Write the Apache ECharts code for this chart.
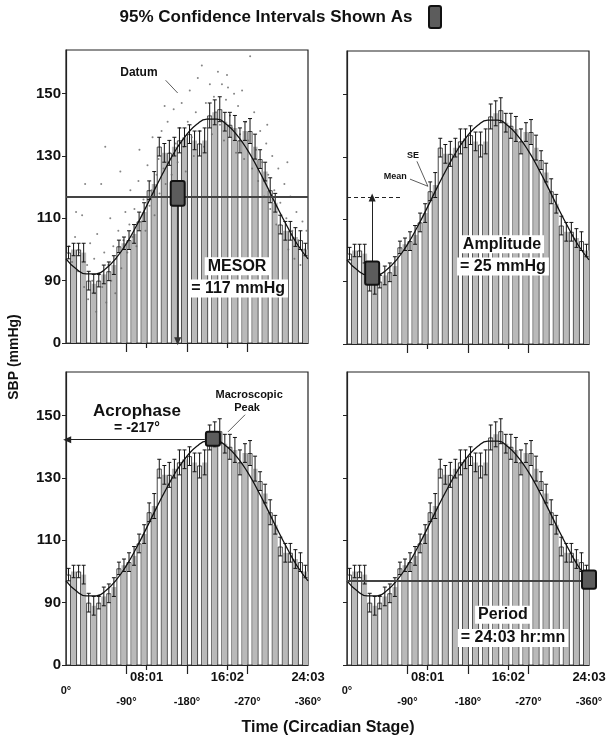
<!DOCTYPE html>
<html><head><meta charset="utf-8">
<script src="https://cdn.jsdelivr.net/npm/echarts@6/dist/echarts.min.js"></script>
<style>html,body{margin:0;padding:0;background:#fff}#c{width:613px;height:742px}</style>
</head><body><div id="c"></div>
<script>
// ---------- data ----------
const PERIOD_H = 24.05;          // 24:03 hr:mn
const MESOR = 117;
const AMPLITUDE = 25;
const ACROPHASE_DEG = -217;
const N_BINS = 48;

// half-hour mean SBP (mmHg)
const barMeans = [99,100,100,99,90,89,90,92,93,95,101,102,103,105,109,112,119,121,133,131,131,133,135,136,
                  137,135,134,135,143,144,145,141,140,139,135,138,138,133,129,125,119,115,108,106,106,104,103,100];
// standard errors
const barSE = [2,2,2,3,3,3,2,3,3,3,2,2,3,3,3,3,3,4,3,3,4,3,4,3,3,3,4,4,4,4,4,3,4,4,4,3,4,4,3,3,4,3,3,3,3,3,3,2];

// fitted cosine, read at each hour
const curveHours = [0,1,2,3,4,5,6,7,8,9,10,11,12,13,14,15,16,17,18,19,20,21,22,23,24.05];
const curveValues = [97,93.8,92.2,92.2,94,97.3,101.9,107.6,113.9,120.5,126.7,132.4,136.9,140.2,141.8,141.8,140,136.7,132.1,126.4,120.1,113.5,107.3,101.6,97];

// raw data (top-left panel)
const datumPoints = [[0.3,101],[0.6,96],[0.9,104],[1.0,112],[1.2,93],[1.4,99],[1.6,111],[1.8,88],[1.9,121],[2.1,95],[2.2,84],[2.4,102],
 [2.6,90],[2.8,97],[2.9,86],[3.0,80],[3.1,105],[3.3,92],[3.5,121],[3.6,88],[3.8,99],[3.9,133],[4.0,83],[4.2,95],[4.4,110],[4.5,90],
 [4.7,101],[4.9,86],[5.0,97],[5.2,106],[5.4,125],[5.5,94],[5.7,103],[5.9,112],[6.1,99],[6.3,108],[6.4,119],[6.6,104],[6.8,113],
 [7.0,101],[7.2,122],[7.3,132],[7.5,109],[7.7,116],[7.9,106],[8.1,127],[8.3,114],[8.5,119],[8.6,136],[8.8,111],[9.0,124],[9.2,129],
 [9.3,118],[9.5,138],[9.7,126],[9.8,146],[9.9,121],[10.1,141],[10.3,131],[10.5,124],[10.7,145],[10.9,134],[11.1,128],[11.3,139],
 [11.5,147],[11.7,133],[11.9,125],[12.1,141],[12.3,151],[12.5,136],[12.7,130],[12.9,144],[13.1,155],[13.3,138],[13.5,159],[13.7,133],
 [13.9,147],[14.1,142],[14.3,153],[14.5,137],[14.7,149],[14.9,144],[15.1,157],[15.3,140],[15.5,153],[15.7,135],[15.9,148],[16.0,156],
 [16.1,152],[16.3,143],[16.5,139],[16.7,150],[16.9,131],[17.1,146],[17.3,137],[17.5,151],[17.7,129],[17.9,141],[18.1,135],[18.3,162],
 [18.5,126],[18.7,144],[18.9,132],[19.1,122],[19.3,138],[19.5,128],[19.7,117],[19.9,134],[20.0,140],[20.1,124],[20.3,113],[20.5,130],
 [20.7,119],[20.9,108],[21.1,126],[21.3,115],[21.5,105],[21.7,121],[21.9,110],[22.0,128],[22.1,100],[22.3,117],[22.5,106],[22.7,97],
 [22.9,112],[23.1,103],[23.3,95],[23.5,109],[23.7,100],[23.9,106]];

// 95% confidence intervals: MESOR, amplitude (trough), acrophase (peak), period
const ciTime = [11.1, 2.5, 14.6, 24.05];
const ciLow  = [114, 89, 140.3, 94.5];
const ciHigh = [122, 96.5, 144.8, 100.3];

// axis ticks
const yTickValues = [70, 90, 110, 130, 150];
const yTickLabels = ['0', '90', '110', '130', '150'];
const hourTickValues = [0, 8.0167, 16.0333, 24.05];
const hourTickLabels = ['0°', '08:01', '16:02', '24:03'];
const degTickValues = [6.01, 12.03, 18.04, 24.05];
const degTickLabels = ['-90°', '-180°', '-270°', '-360°'];

// ---------- chart ----------
const FONT = '"Liberation Sans", Arial, sans-serif';
const gridBoxes = [
  {left: 66, top: 50, width: 242, height: 293},
  {left: 347, top: 51, width: 242, height: 293},
  {left: 66, top: 372, width: 242, height: 293},
  {left: 347, top: 372, width: 242, height: 293}
];
const nearest = (vals, v) => { let b = 0; vals.forEach((x, i) => { if (Math.abs(x - v) < Math.abs(vals[b] - v)) b = i; }); return b; };
const binCenters = barMeans.map((_, k) => (k + 0.5) * PERIOD_H / N_BINS);

const grid = gridBoxes.map(g => Object.assign({}, g, {show: true, borderColor: '#222', borderWidth: 1.2, backgroundColor: 'transparent'}));
const xAxis = [], yAxis = [], series = [];

const lbl = (size, extra) => Object.assign({show: true, fontFamily: FONT, fontWeight: 'bold', fontSize: size, color: '#111'}, extra || {});
const txt = (coord, text, size, bg) => ({coord, symbol: 'circle', symbolSize: 0,
  label: lbl(size, {position: 'inside', formatter: text, backgroundColor: bg ? '#fff' : 'transparent', padding: bg ? [1, 3] : 0})});
const ln = (a, b, style, endSym) => [{coord: a, symbol: 'none'}, {coord: b, symbol: endSym || 'none', symbolSize: [7, 8], lineStyle: style}];

const annotations = [
  { // MESOR
    lines: [
      ln([0, MESOR], [PERIOD_H, MESOR], {color: '#444', width: 1.8, type: 'solid'}),
      ln([ciTime[0], ciLow[0]], [ciTime[0], 70.6], {color: '#333', width: 1.8, type: 'solid'}, 'triangle'),
      ln([9.9, 154.3], [11.1, 150.2], {color: '#333', width: 0.8, type: 'solid'})
    ],
    texts: [
      txt([7.25, 156.7], 'Datum', 12, false),
      txt([17.0, 94.6], 'MESOR', 16, true),
      txt([17.1, 87.5], '= ' + MESOR + ' mmHg', 16, true)
    ]
  },
  { // Amplitude
    lines: [
      ln([0, MESOR], [5.3, MESOR], {color: '#222', width: 1, type: [4, 3]}),
      ln([ciTime[1], ciHigh[1]], [ciTime[1], MESOR], {color: '#222', width: 1, type: 'solid'}, 'triangle'),
      ln([6.95, 128.6], [8.04, 120.6], {color: '#333', width: 0.8, type: 'solid'}),
      ln([6.26, 122.9], [8.04, 120.6], {color: '#333', width: 0.8, type: 'solid'})
    ],
    texts: [
      txt([15.4, 102], 'Amplitude', 16, true),
      txt([15.5, 94.9], '= ' + AMPLITUDE + ' mmHg', 16, true),
      txt([6.55, 130.6], 'SE', 9, false),
      txt([4.8, 123.6], 'Mean', 9, false)
    ]
  },
  { // Acrophase
    lines: [
      ln([13.8, 142.3], [0.12, 142.3], {color: '#222', width: 1.2, type: 'solid'}, 'triangle'),
      ln([17.8, 150.3], [16.1, 144.8], {color: '#333', width: 0.8, type: 'solid'})
    ],
    texts: [
      txt([7.05, 151.3], 'Acrophase', 17, false),
      txt([7.05, 146.1], '= ' + ACROPHASE_DEG + '°', 14, false),
      txt([18.2, 156.6], 'Macroscopic', 11, false),
      txt([18.0, 152.4], 'Peak', 11, false)
    ]
  },
  { // Period
    lines: [
      ln([0, 97], [23.6, 97], {color: '#444', width: 1.8, type: 'solid'})
    ],
    texts: [
      txt([15.5, 86.1], 'Period', 16, true),
      txt([16.5, 78.7], '= 24:03 hr:mn', 16, true)
    ]
  }
];

gridBoxes.forEach((g, i) => {
  const showX = i >= 2;
  xAxis.push({type: 'value', gridIndex: i, min: 0, max: PERIOD_H, position: 'bottom',
    axisLine: {show: true, onZero: false, lineStyle: {color: '#222', width: 1.2}},
    splitLine: {show: false},
    axisTick: {show: true, customValues: [hourTickValues[1], hourTickValues[2]], length: 5, lineStyle: {color: '#222', width: 1.2}},
    axisLabel: lbl(13, {show: showX, customValues: hourTickValues, margin: 5, lineHeight: 14,
      formatter: v => { const k = nearest(hourTickValues, v); return k === 0 ? '\n{d|' + hourTickLabels[0] + '}' : hourTickLabels[k]; },
      rich: {d: {fontFamily: FONT, fontWeight: 'bold', fontSize: 11, color: '#111', lineHeight: 14}}})
  });
  xAxis.push({type: 'value', gridIndex: i, min: 0, max: PERIOD_H, position: 'bottom',
    axisLine: {show: false, onZero: false}, splitLine: {show: false},
    axisTick: {show: true, customValues: degTickValues.slice(0, 3), length: 9, lineStyle: {color: '#222', width: 1.2}},
    axisLabel: lbl(11, {show: showX, customValues: degTickValues, margin: 31, formatter: v => degTickLabels[nearest(degTickValues, v)]})
  });
  yAxis.push({type: 'value', gridIndex: i, min: 70, max: 164,
    axisLine: {show: true, onZero: false, lineStyle: {color: '#222', width: 1.2}},
    splitLine: {show: false},
    axisTick: {show: true, customValues: yTickValues, length: 4, lineStyle: {color: '#222'}},
    axisLabel: lbl(15, {show: i % 2 === 0, customValues: yTickValues, margin: 5, formatter: v => yTickLabels[nearest(yTickValues, v)]})
  });

  const xi = 2 * i;
  series.push({type: 'bar', xAxisIndex: xi, yAxisIndex: i, barWidth: 5, silent: true, z: 2,
    data: barMeans.map((m, k) => ({value: [binCenters[k], m],
      itemStyle: k % 2 === 0 ? {color: '#fff', borderColor: '#333', borderWidth: 0.9} : {color: '#b9b9b9', borderWidth: 0}}))
  });
  if (i === 0) {
    series.push({type: 'scatter', xAxisIndex: xi, yAxisIndex: i, symbolSize: 2, silent: true, z: 3,
      itemStyle: {color: '#666'}, data: datumPoints});
  }
  series.push({type: 'custom', xAxisIndex: xi, yAxisIndex: i, silent: true, z: 4,
    data: barMeans.map((m, k) => [binCenters[k], m, barSE[k]]),
    renderItem: (params, api) => {
      const x = api.value(0), m = api.value(1), se = api.value(2);
      const t = api.coord([x, m + se]), b = api.coord([x, m - se]);
      const st = {stroke: '#111', lineWidth: 1};
      return {type: 'group', children: [
        {type: 'line', shape: {x1: t[0], y1: t[1], x2: b[0], y2: b[1]}, style: st},
        {type: 'line', shape: {x1: t[0] - 2, y1: t[1], x2: t[0] + 2, y2: t[1]}, style: st},
        {type: 'line', shape: {x1: b[0] - 2, y1: b[1], x2: b[0] + 2, y2: b[1]}, style: st}
      ]};
    }
  });
  series.push({type: 'line', xAxisIndex: xi, yAxisIndex: i, smooth: true, symbol: 'none', silent: true, z: 5,
    lineStyle: {color: '#111', width: 1.3},
    data: curveHours.map((h, k) => [h, curveValues[k]]),
    markLine: {silent: true, symbol: ['none', 'none'], label: {show: false}, animation: false, z: 6,
      data: annotations[i].lines},
    markPoint: {silent: true, animation: false, z: 8, data: annotations[i].texts}
  });
  series.push({type: 'custom', xAxisIndex: xi, yAxisIndex: i, silent: true, z: 7, clip: false,
    data: [[ciTime[i], ciLow[i], ciHigh[i]]],
    renderItem: (params, api) => {
      const hi = api.coord([api.value(0), api.value(2)]), lo = api.coord([api.value(0), api.value(1)]);
      return {type: 'rect', shape: {x: hi[0] - 7, y: hi[1], width: 14, height: lo[1] - hi[1], r: 2},
        style: {fill: '#5c5c5c', stroke: '#111', lineWidth: 2}};
    }
  });
});

const chart = echarts.init(document.getElementById('c'));
chart.setOption({
  animation: false,
  backgroundColor: '#fff',
  grid, xAxis, yAxis, series,
  graphic: [
    {type: 'text', x: 266, y: 17, style: {text: '95% Confidence Intervals Shown As', fontFamily: FONT, fontWeight: 'bold', fontSize: 17, fill: '#111', align: 'center', verticalAlign: 'middle'}},
    {type: 'rect', shape: {x: 429, y: 6, width: 12, height: 22, r: 2}, style: {fill: '#5c5c5c', stroke: '#111', lineWidth: 2}},
    {type: 'text', x: 14, y: 357, rotation: Math.PI / 2, style: {text: 'SBP (mmHg)', fontFamily: FONT, fontWeight: 'bold', fontSize: 14, fill: '#111', align: 'center', verticalAlign: 'middle'}},
    {type: 'text', x: 328, y: 728, style: {text: 'Time (Circadian Stage)', fontFamily: FONT, fontWeight: 'bold', fontSize: 16, fill: '#111', align: 'center', verticalAlign: 'middle'}}
  ]
});
</script>
</body></html>
